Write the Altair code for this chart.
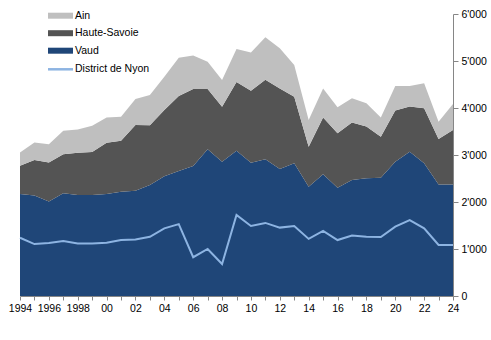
import altair as alt
import pandas as pd

years = list(range(1994, 2025))
vaud = [2170, 2140, 2010, 2185, 2150, 2150, 2170, 2220, 2240, 2360, 2550, 2660, 2765, 3120, 2855, 3090,
        2835, 2910, 2700, 2825, 2325, 2590, 2305, 2470, 2505, 2515, 2855, 3070, 2825, 2375, 2375]
haute_savoie = [600, 755, 830, 830, 900, 915, 1090, 1085, 1400, 1275, 1405, 1595, 1640, 1285, 1170, 1465,
                1530, 1690, 1715, 1415, 850, 1210, 1160, 1220, 1100, 875, 1090, 960, 1170, 965, 1155]
ain = [285, 370, 390, 500, 495, 555, 540, 510, 550, 640, 710, 815, 710, 580, 570, 700,
       815, 905, 855, 675, 570, 615, 550, 520, 495, 410, 525, 440, 530, 370, 555]
nyon = [1240, 1105, 1130, 1170, 1115, 1115, 1135, 1190, 1200, 1260, 1440, 1530, 825, 1000, 680, 1725,
        1490, 1555, 1455, 1490, 1215, 1385, 1190, 1285, 1260, 1255, 1475, 1615, 1440, 1085, 1085]

stack_names = ["Vaud", "Haute-Savoie", "Ain"]
legend_order = ["Ain", "Haute-Savoie", "Vaud"]
legend_colors = ["#bfbfbf", "#545454", "#1f4678"]
line_name = "District de Nyon"
line_color = "#8db4e2"

rows = []
for k, (name, vals) in enumerate(zip(stack_names, [vaud, haute_savoie, ain])):
    for yr, v in zip(years, vals):
        rows.append({"year": yr, "region": name, "value": v, "ord": k})
df_area = pd.DataFrame(rows)
df_line = pd.DataFrame({"year": years, "value": nyon, "region": line_name})

FONT = "Liberation Sans"
FS = 10.5

x_axis = alt.Axis(
    values=years, title=None, grid=False, tickSize=4, labelOverlap=False, labelFlush=False,
    labelExpr="datum.value % 2 == 0 ? (datum.value < 2000 ? toString(datum.value) : slice(toString(datum.value), 2)) : ''",
    domainColor="#868686", tickColor="#868686", labelColor="#000000", labelPadding=3,
    labelFont=FONT, labelFontSize=FS,
)
y_axis = alt.Axis(
    orient="right", values=list(range(0, 7000, 1000)), title=None, grid=False, tickSize=5,
    labelExpr="replace(format(datum.value, ','), ',', \"'\")",
    domainColor="#868686", tickColor="#868686", labelColor="#000000", labelPadding=3,
    labelFont=FONT, labelFontSize=FS,
)
x_scale = alt.Scale(domain=[1994, 2024], nice=False, zero=False)
y_scale = alt.Scale(domain=[0, 6000], nice=False)

area = alt.Chart(df_area).mark_area().encode(
    x=alt.X("year:Q", scale=x_scale, axis=x_axis),
    y=alt.Y("value:Q", stack="zero", scale=y_scale, axis=y_axis),
    fill=alt.Fill(
        "region:N",
        scale=alt.Scale(domain=legend_order, range=legend_colors),
        legend=alt.Legend(
            title=None, orient="none", legendX=34.5, legendY=-4.3, padding=0,
            symbolType="M-2.08,-0.5H2.08V0.5H-2.08Z", symbolSize=144, symbolStrokeWidth=0,
            labelOffset=8.5, rowPadding=5.5, labelFont=FONT, labelFontSize=FS, labelColor="#000000",
        ),
    ),
    order=alt.Order("ord:Q", sort="ascending"),
)

line = alt.Chart(df_line).mark_line(strokeWidth=2).encode(
    x=alt.X("year:Q", scale=x_scale, axis=x_axis),
    y=alt.Y("value:Q", scale=y_scale, axis=y_axis),
    stroke=alt.Stroke(
        "region:N",
        scale=alt.Scale(domain=[line_name], range=[line_color]),
        legend=alt.Legend(
            title=None, orient="none", legendX=26.5, legendY=41.3, padding=0,
            symbolType="stroke", symbolSize=625, symbolStrokeWidth=2.5,
            labelOffset=0.5, labelFont=FONT, labelFontSize=FS, labelColor="#000000",
        ),
    ),
)

chart = alt.layer(area, line).properties(
    width=433, height=282,
    padding={"left": 20, "top": 14, "right": 38, "bottom": 44},
    autosize=alt.AutoSizeParams(type="none"),
).configure_view(stroke=None)

chart.save("out.html", embed_options={"renderer": "svg", "actions": False})
